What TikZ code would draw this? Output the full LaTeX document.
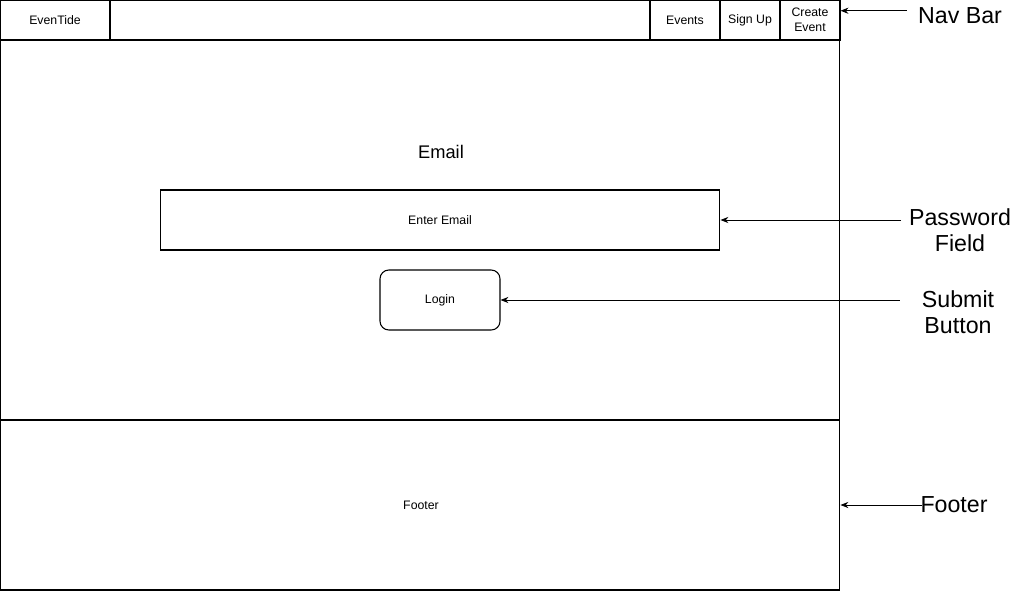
\documentclass[tikz,border=0pt]{standalone}
\usepackage{fontspec}
\setmainfont{Liberation Sans}
\usetikzlibrary{arrows.meta}

\begin{document}
\begin{tikzpicture}[x=0.02cm,y=-0.02cm,
	small/.style={font=\fontsize{7}{8.5}\selectfont,align=center},
	big/.style={font=\fontsize{13.2}{15}\selectfont,align=center},
	box/.style={draw,line width=0.6pt,inner sep=0pt},
	pointer/.style={-{Stealth[length=4.5pt,width=3.5pt]},line width=0.5pt}]
	\useasboundingbox (0,0) rectangle (1026,591);
	% page frame
	\node[box,minimum width=16.8cm,minimum height=11.8cm] (page) at (420,295) {};
	\node[box,minimum width=16.8cm,minimum height=0.8cm] (navbar) at (420,20) {};
	\node[box,minimum width=16.8cm,minimum height=3.4cm] (foot) at (420,505) {};
	% nav items
	\node[box,small,minimum width=2.2cm,minimum height=0.8cm] (brand) at (55,20) {EvenTide};
	\node[box,small,minimum width=1.4cm,minimum height=0.8cm] (events) at (685,20) {Events};
	\node[box,small,minimum width=1.2cm,minimum height=0.8cm] (signup) at (750,20) {Sign Up};
	\node[box,small,minimum width=1.2cm,minimum height=0.8cm] (create) at (810,20) {Create\\Event};
	% form
	\node[font=\fontsize{10.4}{12}\selectfont] (email) at (441,152) {Email};
	\node[box,small,minimum width=11.2cm,minimum height=1.2cm] (field) at (440,220) {Enter Email};
	\node[box,small,rounded corners=5pt,minimum width=2.4cm,minimum height=1.2cm] (login) at (440,300) {Login};
	\node[small] (footer) at (421,505) {Footer};
	% labels
	\node[big] (navlbl) at (960,16) {Nav Bar};
	\node[big] (pwlbl) at (960,230) {Password\\Field};
	\node[big] (sublbl) at (958,312) {Submit\\Button};
	\node[big] (ftlbl) at (954,505) {Footer};
	\draw[pointer] ([xshift=-3pt,yshift=3pt]navlbl.west) -- ([yshift=3pt]navlbl.west -| create.east);
	\draw[pointer] ([xshift=-1pt]field.east -| pwlbl.west) -- (field.east);
	\draw[pointer] ([xshift=-9pt]login.east -| sublbl.west) -- (login.east);
	\draw[pointer] ([xshift=4.5pt]ftlbl.west) -- (ftlbl.west -| foot.east);
\end{tikzpicture}
\end{document}
